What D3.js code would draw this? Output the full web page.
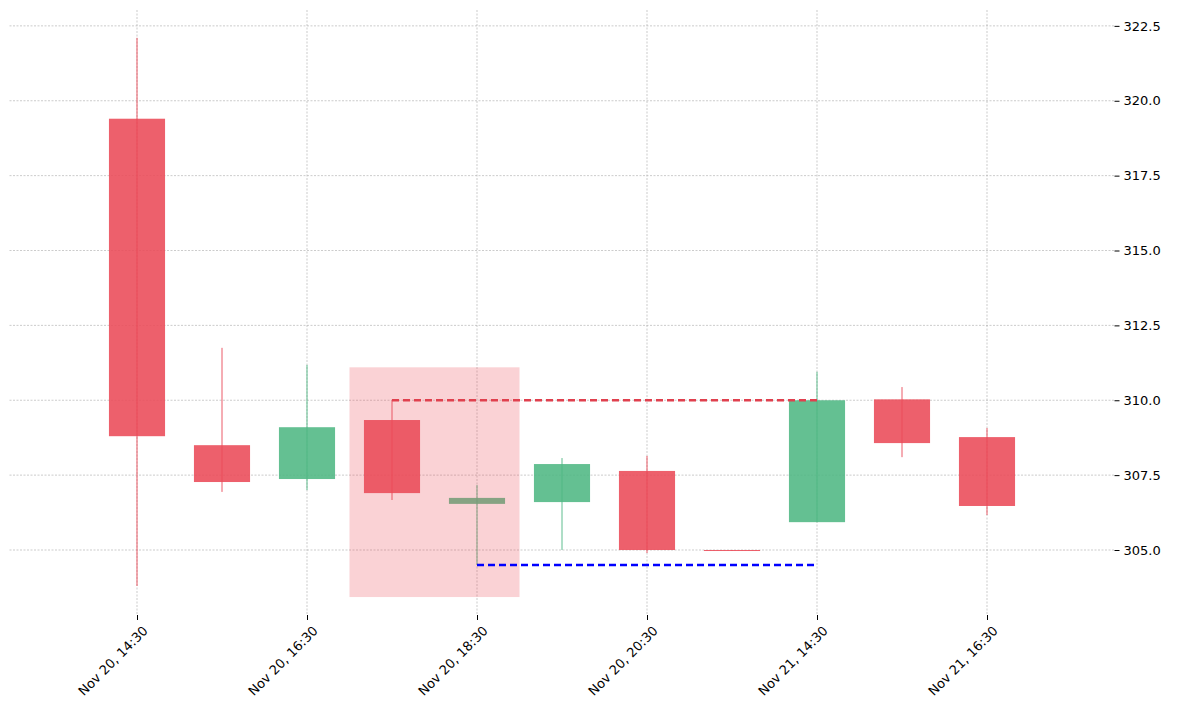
<!DOCTYPE html>
<html><head><meta charset="utf-8">
<script src="https://cdn.jsdelivr.net/npm/d3@7"></script>
<style>body{margin:0;background:#fff}text{font-family:"DejaVu Sans",sans-serif}</style>
</head><body><svg id="c" width="1179" height="712"></svg>
<script>
const opens  =[319.4,308.5,307.37,309.34,306.54,306.6,307.64,305.0,305.93,310.03,308.77];
const closes =[308.8,307.27,309.1,306.9,306.74,307.87,305.0,304.98,310.0,308.57,306.47];
const highs  =[322.1,311.75,311.18,310.0,307.17,308.07,308.14,305.0,310.95,310.44,309.07];
const lows   =[303.8,306.94,307.0,306.67,304.5,305.0,304.9,304.98,305.93,308.1,306.17];
const tickIdx=[0,2,4,6,8,10];
const tickLabels=["Nov 20, 14:30","Nov 20, 16:30","Nov 20, 18:30","Nov 20, 20:30","Nov 21, 14:30","Nov 21, 16:30"];
const yTicks=[305,307.5,310,312.5,315,317.5,320,322.5];
const zone={from:2.5,to:4.5,top:311.1,bottom:303.43};
const resist={from:3,to:8,value:310.0};
const support={from:4,to:8,value:304.5};

const svg=d3.select("#c");
const x=d3.scaleLinear().domain([-1.5,11.5]).range([9.5,1114.5]);
const y=d3.scaleLinear().domain([302.83,323.03]).range([615,10]);
const g=svg.append("g");
g.selectAll(".vg").data(tickIdx).join("line").attr("x1",d=>x(d)).attr("x2",d=>x(d)).attr("y1",10).attr("y2",615)
 .attr("stroke","#aaa").attr("stroke-width",0.6).attr("stroke-dasharray","2,1.5");
g.selectAll(".hg").data(yTicks).join("line").attr("x1",9.5).attr("x2",1114.5).attr("y1",d=>y(d)).attr("y2",d=>y(d))
 .attr("stroke","#aaa").attr("stroke-width",0.6).attr("stroke-dasharray","2,1.5");
const col=i=>closes[i]>=opens[i]?"#4fb783":"#ea4a58";
const idx=d3.range(opens.length);
g.selectAll(".wick").data(idx).join("line").attr("x1",i=>x(i)).attr("x2",i=>x(i))
 .attr("y1",i=>y(highs[i])).attr("y2",i=>y(lows[i])).attr("stroke",col).attr("stroke-width",1).attr("opacity",0.9);
const bw=x(0.33)-x(0);
g.selectAll(".body").data(idx).join("rect").attr("x",i=>x(i)-bw).attr("width",2*bw)
 .attr("y",i=>y(Math.max(opens[i],closes[i]))).attr("height",i=>Math.max(1,Math.abs(y(opens[i])-y(closes[i]))))
 .attr("fill",col).attr("opacity",0.88);
g.append("rect").attr("x",x(zone.from)).attr("width",x(zone.to)-x(zone.from)).attr("y",y(zone.top)).attr("height",y(zone.bottom)-y(zone.top))
 .attr("fill","#ea4a58").attr("opacity",0.25);
g.append("line").attr("x1",x(resist.from)).attr("x2",x(resist.to)).attr("y1",y(resist.value)).attr("y2",y(resist.value))
 .attr("stroke","#e0404e").attr("stroke-width",2.5).attr("stroke-dasharray","7,4");
g.append("line").attr("x1",x(support.from)).attr("x2",x(support.to)).attr("y1",y(support.value)).attr("y2",y(support.value))
 .attr("stroke","#0000ff").attr("stroke-width",2.5).attr("stroke-dasharray","7,4");
const ya=svg.append("g").attr("transform","translate(1114.5,0)").call(d3.axisRight(y).tickValues(yTicks).tickFormat(d3.format(".1f")).tickSize(5));
ya.select(".domain").remove();
ya.selectAll("text").attr("font-size",13).attr("fill","#000").attr("x",9);
const xa=svg.append("g").attr("transform","translate(0,615)").call(d3.axisBottom(x).tickValues(tickIdx).tickFormat((d,i)=>tickLabels[i]).tickSize(5));
xa.select(".domain").remove();
xa.selectAll("text").attr("font-size",13).attr("fill","#000").attr("text-anchor","end")
 .attr("transform","rotate(-45)").attr("dx","-0.3em").attr("dy","0.9em");
</script></body></html>
